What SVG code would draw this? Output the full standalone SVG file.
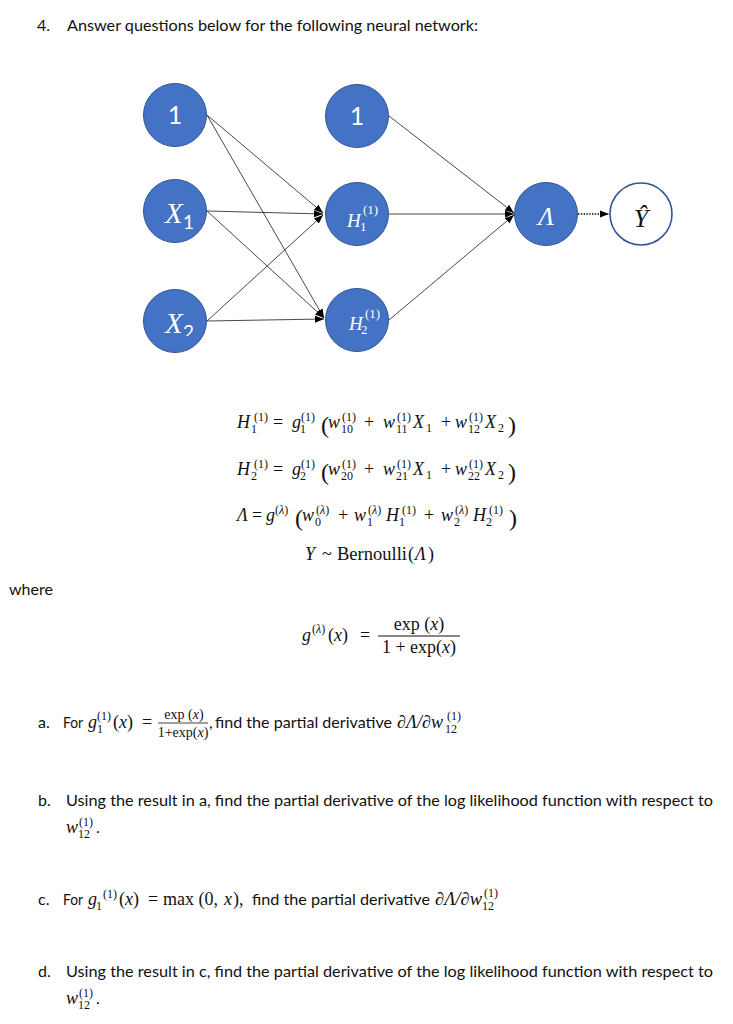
<svg xmlns="http://www.w3.org/2000/svg" width="733" height="1024" viewBox="0 0 733 1024">
<style>
.t{font-family:Lato,"Open Sans","Liberation Sans",sans-serif;font-size:16px;fill:#111}
.m{font-family:"Liberation Serif","Times New Roman",serif;font-size:18px;fill:#111}
.i{font-style:italic}
.s{font-size:12px}
.p{font-size:24px}
.f{font-size:14px}
.node{fill:#4472C4;stroke:#2F5597;stroke-width:1}
.out{fill:#fff;stroke:#2F5597;stroke-width:1.6}
.lbl{font-family:"Liberation Serif","Times New Roman",serif;font-style:italic;fill:#fff}
.nl{font-family:"Liberation Serif","Times New Roman",serif;font-size:13px;fill:#fff}
.one{font-family:Lato,"Open Sans",sans-serif;font-size:25px;fill:#fff;text-anchor:middle}
.edge{stroke:#333;stroke-width:0.9;fill:none}
</style>
<defs>
<marker id="ah" markerUnits="userSpaceOnUse" markerWidth="11" markerHeight="9" refX="9" refY="4" orient="auto"><path d="M0,0.5 L9,4 L0,7.5 z" fill="#000"/></marker>
<clipPath id="cx2"><rect x="150" y="290" width="60" height="46"/></clipPath>
</defs>
<rect width="733" height="1024" fill="#fff"/>

<text x="37" y="31" class="t">4.</text>
<text x="67" y="31" class="t" textLength="411" lengthAdjust="spacingAndGlyphs">Answer questions below for the following neural network:</text>

<g id="connectors">
<line class="edge" x1="207" y1="115" x2="323" y2="213" marker-end="url(#ah)"/>
<line class="edge" x1="207" y1="115" x2="324" y2="318" marker-end="url(#ah)"/>
<line class="edge" x1="207" y1="211" x2="323" y2="214" marker-end="url(#ah)"/>
<line class="edge" x1="207" y1="211" x2="324" y2="318" marker-end="url(#ah)"/>
<line class="edge" x1="207" y1="321" x2="323" y2="215" marker-end="url(#ah)"/>
<line class="edge" x1="207" y1="321" x2="324" y2="319" marker-end="url(#ah)"/>
<line class="edge" x1="389" y1="116" x2="514" y2="213" marker-end="url(#ah)"/>
<line class="edge" x1="389" y1="214" x2="514" y2="214" marker-end="url(#ah)"/>
<line class="edge" x1="389" y1="320" x2="514" y2="215" marker-end="url(#ah)"/>
<line x1="578" y1="214" x2="609" y2="214" stroke="#000" stroke-width="1.6" stroke-dasharray="1.4 1.4" marker-end="url(#ah)"/>
</g>

<g id="n_bias1"><circle class="node" cx="175" cy="115" r="31.5"/><text class="one" x="175" y="124">1</text></g>
<g id="n_x1"><circle class="node" cx="175" cy="211" r="31.5"/><text class="lbl" x="165" y="223" font-size="29">X</text><text x="183" y="229" font-family="Lato,sans-serif" font-size="19" fill="#fff">1</text></g>
<g id="n_x2"><circle class="node" cx="175" cy="321" r="31.5"/><g clip-path="url(#cx2)"><text class="lbl" x="165" y="333" font-size="29">X</text><text x="183" y="339" font-family="Lato,sans-serif" font-size="19" fill="#fff">2</text></g></g>
<g id="n_bias2"><circle class="node" cx="357" cy="116" r="31.5"/><text class="one" x="357" y="125">1</text></g>
<g id="n_h1"><circle class="node" cx="357" cy="214" r="31.5"/><text class="lbl" x="347" y="227" font-size="19">H</text><text class="nl" x="363" y="214">(1)</text><text class="nl" x="360" y="231">1</text></g>
<g id="n_h2"><circle class="node" cx="357" cy="320" r="31.5"/><text class="lbl" x="349" y="330" font-size="19">H</text><text class="nl" x="365" y="318">(1)</text><text class="nl" x="361" y="334">2</text></g>
<g id="n_lambda"><circle class="node" cx="546" cy="214" r="31.5"/><text class="lbl" x="546" y="225" font-size="26" text-anchor="middle">Λ</text></g>
<g id="n_yhat"><circle class="out" cx="641" cy="214" r="31"/><text x="641" y="227" font-family="Liberation Serif,serif" font-style="italic" font-size="26" fill="#111" text-anchor="middle">Ŷ</text></g>

<g id="eq1" class="m">
<text x="237" y="428" class="i">H</text><text x="254" y="421" class="s">(1)</text><text x="251" y="433" class="s">1</text>
<text x="273" y="428">=</text>
<text x="292" y="428" class="i">g</text><text x="301" y="421" class="s">(1)</text><text x="300" y="433" class="s">1</text>
<text x="321" y="433" class="p">(</text>
<text x="328" y="428" class="i">w</text><text x="342" y="421" class="s">(1)</text><text x="341" y="433" class="s">10</text>
<text x="364" y="428">+</text>
<text x="383" y="428" class="i">w</text><text x="397" y="421" class="s">(1)</text><text x="396" y="433" class="s">11</text>
<text x="413" y="428" class="i">X</text><text x="426" y="432" class="s">1</text>
<text x="441" y="428">+</text>
<text x="455" y="428" class="i">w</text><text x="469" y="421" class="s">(1)</text><text x="468" y="433" class="s">12</text>
<text x="485" y="428" class="i">X</text><text x="498" y="432" class="s">2</text>
<text x="508" y="433" class="p">)</text>
</g>

<g id="eq2" class="m">
<text x="237" y="475" class="i">H</text><text x="254" y="468" class="s">(1)</text><text x="251" y="480" class="s">2</text>
<text x="273" y="475">=</text>
<text x="292" y="475" class="i">g</text><text x="301" y="468" class="s">(1)</text><text x="300" y="480" class="s">2</text>
<text x="321" y="480" class="p">(</text>
<text x="328" y="475" class="i">w</text><text x="342" y="468" class="s">(1)</text><text x="341" y="480" class="s">20</text>
<text x="364" y="475">+</text>
<text x="383" y="475" class="i">w</text><text x="397" y="468" class="s">(1)</text><text x="396" y="480" class="s">21</text>
<text x="413" y="475" class="i">X</text><text x="426" y="479" class="s">1</text>
<text x="441" y="475">+</text>
<text x="455" y="475" class="i">w</text><text x="469" y="468" class="s">(1)</text><text x="468" y="480" class="s">22</text>
<text x="485" y="475" class="i">X</text><text x="498" y="479" class="s">2</text>
<text x="508" y="480" class="p">)</text>
</g>

<g id="eq3" class="m">
<text x="237" y="521" class="i">Λ</text>
<text x="252" y="521">=</text>
<text x="266" y="521" class="i">g</text><text x="275" y="514" class="s">(<tspan class="i">λ</tspan>)</text>
<text x="295" y="526" class="p">(</text>
<text x="302" y="521" class="i">w</text><text x="316" y="514" class="s">(<tspan class="i">λ</tspan>)</text><text x="315" y="526" class="s">0</text>
<text x="338" y="521">+</text>
<text x="354" y="521" class="i">w</text><text x="368" y="514" class="s">(<tspan class="i">λ</tspan>)</text><text x="367" y="526" class="s">1</text>
<text x="386" y="521" class="i">H</text><text x="402" y="514" class="s">(1)</text><text x="399" y="526" class="s">1</text>
<text x="424" y="521">+</text>
<text x="441" y="521" class="i">w</text><text x="455" y="514" class="s">(<tspan class="i">λ</tspan>)</text><text x="454" y="526" class="s">2</text>
<text x="473" y="521" class="i">H</text><text x="489" y="514" class="s">(1)</text><text x="486" y="526" class="s">2</text>
<text x="509" y="526" class="p">)</text>
</g>

<g id="eq4" class="m">
<text x="305" y="560" class="i">Y</text>
<text x="322" y="560">~</text>
<text x="337" y="560" textLength="70" lengthAdjust="spacingAndGlyphs">Bernoulli</text>
<text x="408" y="560">(</text>
<text x="415" y="560" class="i">Λ</text>
<text x="428" y="560">)</text>
</g>

<text x="9" y="595" class="t" textLength="44" lengthAdjust="spacingAndGlyphs">where</text>

<g id="eq5" class="m">
<text x="302" y="641" class="i">g</text><text x="312" y="633" class="s">(<tspan class="i">λ</tspan>)</text>
<text x="328" y="641">(<tspan class="i">x</tspan>)</text>
<text x="360" y="641">=</text>
<text x="419" y="630" text-anchor="middle">exp (<tspan class="i">x</tspan>)</text>
<line x1="378" y1="636" x2="460" y2="636" stroke="#111" stroke-width="1"/>
<text x="419" y="653" text-anchor="middle">1 + exp(<tspan class="i">x</tspan>)</text>
</g>

<g id="qa">
<text x="38" y="728" class="t">a.</text>
<text x="63" y="728" class="t" textLength="20" lengthAdjust="spacingAndGlyphs">For</text>
<text x="88" y="728" class="m i">g</text><text x="97" y="720" class="m s">(1)</text><text x="97" y="733" class="m s">1</text>
<text x="113" y="728" class="m">(<tspan class="i">x</tspan>)</text>
<text x="142" y="728" class="m">=</text>
<text x="184" y="719" class="m f" text-anchor="middle">exp (<tspan class="i">x</tspan>)</text>
<line x1="158" y1="723" x2="208" y2="723" stroke="#111" stroke-width="0.8"/>
<text x="183" y="737" class="m f" text-anchor="middle">1+exp(<tspan class="i">x</tspan>)</text>
<text x="209" y="728" class="t">,</text>
<text x="215" y="728" class="t" textLength="177" lengthAdjust="spacingAndGlyphs">find the partial derivative</text>
<text x="397" y="728" class="m i" textLength="46" lengthAdjust="spacingAndGlyphs">∂Λ/∂w</text><text x="447" y="720" class="m s">(1)</text><text x="445" y="733" class="m s">12</text>
</g>

<g id="qb">
<text x="38" y="806" class="t">b.</text>
<text x="66" y="806" class="t" textLength="647" lengthAdjust="spacingAndGlyphs">Using the result in a, find the partial derivative of the log likelihood function with respect to</text>
<text x="66" y="833" class="m i">w</text><text x="79" y="826" class="m s">(1)</text><text x="78" y="838" class="m s">12</text><text x="96" y="833" class="t">.</text>
</g>

<g id="qc">
<text x="38" y="905" class="t">c.</text>
<text x="63" y="905" class="t" textLength="20" lengthAdjust="spacingAndGlyphs">For</text>
<text x="88" y="905" class="m i">g</text><text x="96" y="910" class="m s">1</text><text x="103" y="898" class="m s">(1)</text>
<text x="119" y="905" class="m">(<tspan class="i">x</tspan>)</text>
<text x="148" y="905" class="m">=</text>
<text x="163" y="905" class="m">max (0,</text>
<text x="224" y="905" class="m i">x</text>
<text x="233" y="905" class="m">),</text>
<text x="252" y="905" class="t" textLength="178" lengthAdjust="spacingAndGlyphs">find the partial derivative</text>
<text x="435" y="905" class="m i" textLength="47" lengthAdjust="spacingAndGlyphs">∂Λ/∂w</text><text x="484" y="897" class="m s">(1)</text><text x="482" y="910" class="m s">12</text>
</g>

<g id="qd">
<text x="38" y="977" class="t">d.</text>
<text x="66" y="977" class="t" textLength="647" lengthAdjust="spacingAndGlyphs">Using the result in c, find the partial derivative of the log likelihood function with respect to</text>
<text x="66" y="1004" class="m i">w</text><text x="79" y="997" class="m s">(1)</text><text x="78" y="1009" class="m s">12</text><text x="96" y="1004" class="t">.</text>
</g>
</svg>
